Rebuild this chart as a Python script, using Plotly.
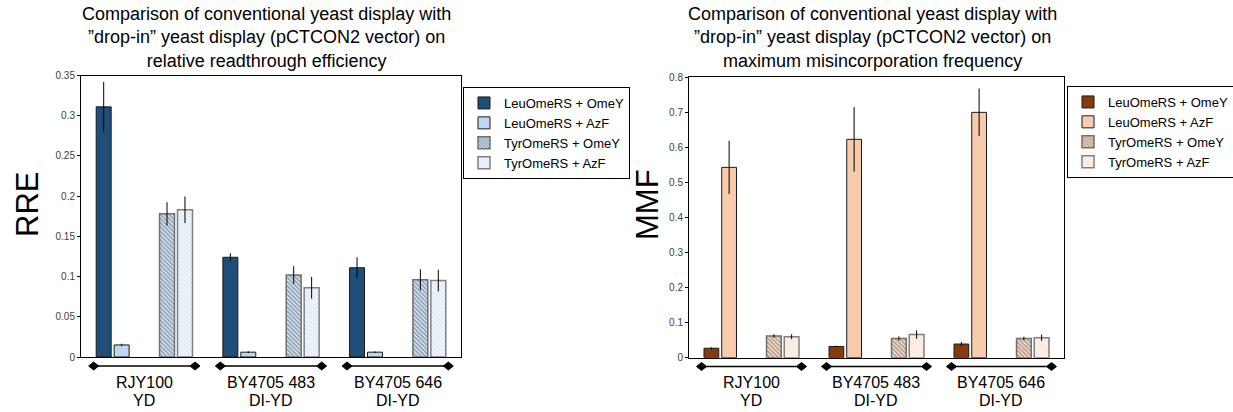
import plotly.graph_objects as go

# ---------------- data ----------------
groups_line1 = ["RJY100", "BY4705 483", "BY4705 646"]
groups_line2 = ["YD", "DI-YD", "DI-YD"]
synthetases = ["Leu", "Tyr"]

series_names = ["LeuOmeRS + OmeY", "LeuOmeRS + AzF", "TyrOmeRS + OmeY", "TyrOmeRS + AzF"]

rre_leu_omey = [0.311, 0.124, 0.111]
rre_leu_omey_err = [0.031, 0.005, 0.013]
rre_leu_azf = [0.015, 0.006, 0.006]
rre_leu_azf_err = [0.0015, 0.001, 0.001]
rre_tyr_omey = [0.178, 0.102, 0.096]
rre_tyr_omey_err = [0.0145, 0.011, 0.013]
rre_tyr_azf = [0.183, 0.086, 0.095]
rre_tyr_azf_err = [0.0165, 0.0135, 0.0135]

mmf_leu_omey = [0.027, 0.032, 0.039]
mmf_leu_omey_err = [0.003, 0.002, 0.006]
mmf_leu_azf = [0.543, 0.623, 0.700]
mmf_leu_azf_err = [0.076, 0.092, 0.068]
mmf_tyr_omey = [0.062, 0.055, 0.055]
mmf_tyr_omey_err = [0.005, 0.006, 0.005]
mmf_tyr_azf = [0.060, 0.066, 0.057]
mmf_tyr_azf_err = [0.007, 0.012, 0.009]

rre_ticks = [0, 0.05, 0.1, 0.15, 0.2, 0.25, 0.3, 0.35]
rre_ticktext = ["0", "0.05", "0.1", "0.15", "0.2", "0.25", "0.3", "0.35"]
mmf_ticks = [0, 0.1, 0.2, 0.3, 0.4, 0.5, 0.6, 0.7, 0.8]
mmf_ticktext = ["0", "0.1", "0.2", "0.3", "0.4", "0.5", "0.6", "0.7", "0.8"]

title_left = ("Comparison of conventional yeast display with<br>"
              "\u201ddrop-in\u201d yeast display (pCTCON2 vector) on<br>"
              "relative readthrough efficiency")
title_right = ("Comparison of conventional yeast display with<br>"
               "\u201ddrop-in\u201d yeast display (pCTCON2 vector) on<br>"
               "maximum misincorporation frequency")

# ---------------- style ----------------
W, H = 1233, 412
FONT = "Arial, Liberation Sans, sans-serif"
blue_dark, blue_light = "#1F4E79", "#BDD7EE"
brown_dark, brown_light = "#843C0C", "#F8CBAD"

cats = [f"{g}|{s}" for g in groups_line1 for s in synthetases]
leu_x = [f"{g}|Leu" for g in groups_line1]
tyr_x = [f"{g}|Tyr" for g in groups_line1]


def px_x(p):
    return p / W


def px_y(p):
    return 1 - p / H


fig = go.Figure()


def add_set(vals, errs, dark, light, xa, ya, legend):
    specs = [
        (leu_x, "a", dict(color=dark, line=dict(color="#1a1a1a", width=1))),
        (leu_x, "b", dict(color=light, line=dict(color="#1a1a1a", width=1))),
        (tyr_x, "a", dict(color="white", line=dict(color="#707070", width=1.5),
                          pattern=dict(shape="\\", fgcolor=dark, bgcolor="white",
                                       size=3, solidity=0.7))),
        (tyr_x, "b", dict(color="white", line=dict(color="#808080", width=1.5),
                          pattern=dict(shape="\\", fgcolor=light, bgcolor="white",
                                       size=3, solidity=0.7))),
    ]
    for name, v, e, (xs, og, mk) in zip(series_names, vals, errs, specs):
        fig.add_trace(go.Bar(
            x=xs, y=v, name=name, offsetgroup=og, marker=mk,
            error_y=dict(type="data", array=e, color="black", thickness=1, width=0),
            xaxis=xa, yaxis=ya, legend=legend,
        ))


add_set([rre_leu_omey, rre_leu_azf, rre_tyr_omey, rre_tyr_azf],
        [rre_leu_omey_err, rre_leu_azf_err, rre_tyr_omey_err, rre_tyr_azf_err],
        blue_dark, blue_light, "x", "y", "legend")
add_set([mmf_leu_omey, mmf_leu_azf, mmf_tyr_omey, mmf_tyr_azf],
        [mmf_leu_omey_err, mmf_leu_azf_err, mmf_tyr_omey_err, mmf_tyr_azf_err],
        brown_dark, brown_light, "x2", "y2", "legend2")

# plot areas in pixels
L1, R1, T1, B1 = 81, 461, 75.5, 357
L2, R2, T2, B2 = 689, 1064, 77.3, 357.7

axis_common = dict(showline=True, linecolor="black", linewidth=1, mirror=True,
                   showgrid=False, zeroline=False)
legend_common = dict(xanchor="left", yanchor="top", bordercolor="black", borderwidth=1,
                     bgcolor="white", font=dict(size=13, family=FONT, color="black"),
                     itemwidth=30, tracegroupgap=0, traceorder="normal")
fig.update_layout(
    width=W, height=H, margin=dict(l=0, r=0, t=0, b=0, autoexpand=False),
    paper_bgcolor="white", plot_bgcolor="white",
    barmode="group", bargap=0.433, bargroupgap=0.167,
    font=dict(family=FONT, color="black"),
    xaxis=dict(domain=[px_x(L1), px_x(R1)], type="category", categoryorder="array",
               categoryarray=cats, showticklabels=False, ticks="", anchor="y",
               **axis_common),
    yaxis=dict(domain=[px_y(B1), px_y(T1)], range=[0, 0.35], tickvals=rre_ticks,
               ticktext=rre_ticktext, ticks="outside", ticklen=3, tickcolor="black",
               tickfont=dict(size=10, color="#404040"), anchor="x", **axis_common),
    xaxis2=dict(domain=[px_x(L2), px_x(R2)], type="category", categoryorder="array",
                categoryarray=cats, showticklabels=False, ticks="", anchor="y2",
                **axis_common),
    yaxis2=dict(domain=[px_y(B2), px_y(T2)], range=[0, 0.8], tickvals=mmf_ticks,
                ticktext=mmf_ticktext, ticks="outside", ticklen=3, tickcolor="black",
                tickfont=dict(size=10, color="#404040"), anchor="x2", **axis_common),
    legend=dict(x=px_x(463), y=px_y(87), **legend_common),
    legend2=dict(x=px_x(1067), y=px_y(86), **legend_common),
)

annotations = []
shapes = []
# titles
annotations.append(dict(text=title_left, x=px_x(266), y=px_y(2), xref="paper", yref="paper",
                        xanchor="center", yanchor="top", showarrow=False,
                        font=dict(size=18, family=FONT, color="black")))
annotations.append(dict(text=title_right, x=px_x(872), y=px_y(2), xref="paper", yref="paper",
                        xanchor="center", yanchor="top", showarrow=False,
                        font=dict(size=18, family=FONT, color="black")))
# y titles
annotations.append(dict(text="RRE", x=px_x(27), y=px_y(205), xref="paper", yref="paper",
                        textangle=-90, showarrow=False, xanchor="center", yanchor="middle",
                        font=dict(size=31, family=FONT, color="black")))
annotations.append(dict(text="MMF", x=px_x(647), y=px_y(205), xref="paper", yref="paper",
                        textangle=-90, showarrow=False, xanchor="center", yanchor="middle",
                        font=dict(size=31, family=FONT, color="black")))

# group brackets and labels
for xr, yline in (("x", 366), ("x2", 366.5)):
    for gi, (l1, l2) in enumerate(zip(groups_line1, groups_line2)):
        x0 = 2 * gi - 0.3
        x1 = 2 * gi + 1.3
        shapes.append(dict(type="line", xref=xr, yref="paper", x0=x0, x1=x1,
                           y0=px_y(yline), y1=px_y(yline),
                           line=dict(color="black", width=1.5)))
        for xe in (x0, x1):
            shapes.append(dict(type="path", xref=xr, yref="paper",
                               xsizemode="pixel", ysizemode="pixel",
                               xanchor=xe, yanchor=px_y(yline),
                               path="M -5,0 L 0,4 L 5,0 L 0,-4 Z",
                               fillcolor="black", line=dict(color="black", width=1)))
        annotations.append(dict(text=l1, x=2 * gi + 0.5, y=px_y(382), xref=xr, yref="paper",
                                showarrow=False, xanchor="center", yanchor="middle",
                                font=dict(size=16, family=FONT, color="black")))
        annotations.append(dict(text=l2, x=2 * gi + 0.5, y=px_y(400.5), xref=xr, yref="paper",
                                showarrow=False, xanchor="center", yanchor="middle",
                                font=dict(size=16, family=FONT, color="black")))

fig.update_layout(annotations=annotations, shapes=shapes)

fig.write_html("out.html")
